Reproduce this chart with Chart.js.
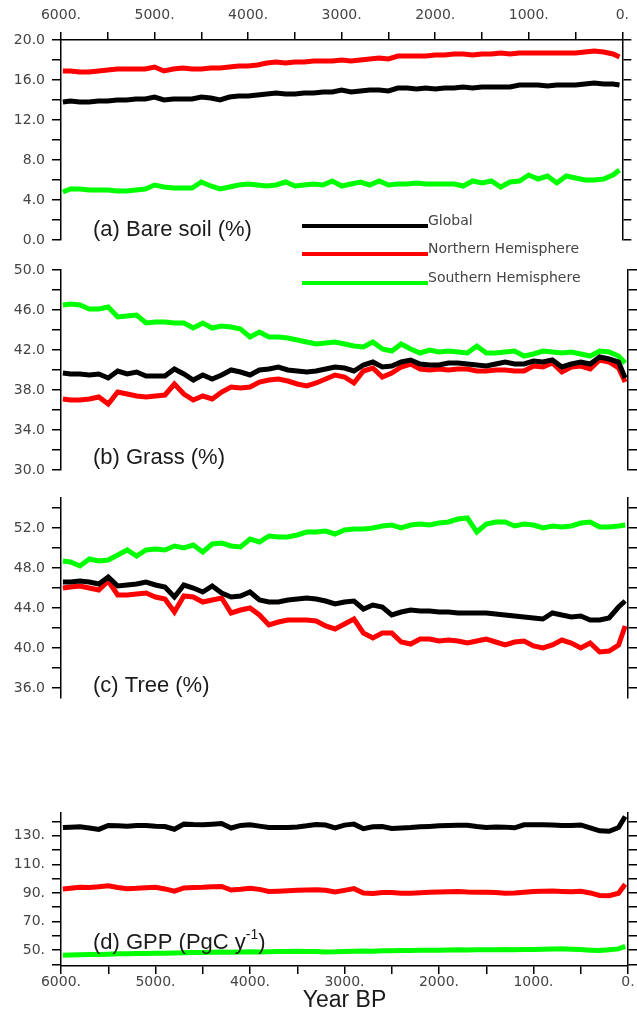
<!DOCTYPE html>
<html lang="en">
<head>
    <meta charset="UTF-8">
    <title>Bare soil, grass, tree and GPP, 6000 BP to present</title>
    <script src="https://cdn.jsdelivr.net/npm/chart.js@4.4.1/dist/chart.umd.min.js"></script>
    <style>
        body {
            margin: 0;
            background: #fff;
        }
        #wrap {
            position: relative;
            width: 637px;
            height: 1016px;
            overflow: hidden;
        }
        canvas {
            position: absolute;
            left: 0;
        }
    </style>
</head>
<body>
    <div id="wrap">
        <canvas id="panelA" width="637" height="300" style="top:0px"></canvas>
        <canvas id="panelB" width="637" height="240" style="top:250px"></canvas>
        <canvas id="panelC" width="637" height="240" style="top:478px"></canvas>
        <canvas id="panelD" width="637" height="223" style="top:793px"></canvas>
    </div>

    <script>
        // years BP of the sampled points (read every 100 years)
        const years = [5980,
            5900, 5800, 5700, 5600, 5500, 5400, 5300, 5200, 5100, 5000,
            4900, 4800, 4700, 4600, 4500, 4400, 4300, 4200, 4100, 4000,
            3900, 3800, 3700, 3600, 3500, 3400, 3300, 3200, 3100, 3000,
            2900, 2800, 2700, 2600, 2500, 2400, 2300, 2200, 2100, 2000,
            1900, 1800, 1700, 1600, 1500, 1400, 1300, 1200, 1100, 1000,
            900, 800, 700, 600, 500, 400, 300, 200, 100,
            30];

        const seriesNames = ['Global', 'Northern Hemisphere', 'Southern Hemisphere'];
        const seriesColors = ['#000000', '#ff0000', '#00ff00'];

        // (a) bare soil %
        const bareGlobal = [13.8,
            13.9, 13.8, 13.8, 13.9, 13.9, 14.0, 14.0, 14.1, 14.1, 14.3,
            14.0, 14.1, 14.1, 14.1, 14.3, 14.2, 14.0, 14.3, 14.4, 14.4,
            14.5, 14.6, 14.7, 14.6, 14.6, 14.7, 14.7, 14.8, 14.8, 15.0,
            14.8, 14.9, 15.0, 15.0, 14.9, 15.2, 15.2, 15.1, 15.2, 15.1,
            15.2, 15.2, 15.3, 15.2, 15.3, 15.3, 15.3, 15.3, 15.5, 15.5,
            15.5, 15.4, 15.5, 15.5, 15.5, 15.6, 15.7, 15.6, 15.6,
            15.5];
        const bareNH = [16.9,
            16.9, 16.8, 16.8, 16.9, 17.0, 17.1, 17.1, 17.1, 17.1, 17.3,
            16.9, 17.1, 17.2, 17.1, 17.1, 17.2, 17.2, 17.3, 17.4, 17.4,
            17.5, 17.7, 17.8, 17.7, 17.8, 17.8, 17.9, 17.9, 17.9, 18.0,
            17.9, 18.0, 18.1, 18.2, 18.1, 18.4, 18.4, 18.4, 18.4, 18.5,
            18.5, 18.6, 18.6, 18.5, 18.6, 18.6, 18.7, 18.6, 18.7, 18.7,
            18.7, 18.7, 18.7, 18.7, 18.7, 18.8, 18.9, 18.8, 18.6,
            18.3];
        const bareSH = [4.8,
            5.1, 5.1, 5.0, 5.0, 5.0, 4.9, 4.9, 5.0, 5.1, 5.5,
            5.3, 5.2, 5.2, 5.2, 5.8, 5.4, 5.1, 5.3, 5.5, 5.6,
            5.5, 5.4, 5.5, 5.8, 5.4, 5.5, 5.6, 5.5, 5.9, 5.4,
            5.6, 5.8, 5.5, 5.9, 5.5, 5.6, 5.6, 5.7, 5.6, 5.6,
            5.6, 5.6, 5.4, 5.9, 5.7, 5.9, 5.3, 5.8, 5.9, 6.5,
            6.1, 6.4, 5.7, 6.4, 6.2, 6.0, 6.0, 6.1, 6.5,
            7.0];

        // (b) grass %
        const grassGlobal = [39.7,
            39.6, 39.6, 39.5, 39.6, 39.2, 39.9, 39.6, 39.8, 39.4, 39.4,
            39.4, 40.1, 39.6, 39.0, 39.5, 39.1, 39.5, 40.0, 39.8, 39.5,
            40.0, 40.1, 40.3, 40.0, 39.9, 39.8, 39.9, 40.1, 40.3, 40.2,
            39.9, 40.5, 40.8, 40.3, 40.4, 40.8, 41.0, 40.6, 40.5, 40.5,
            40.7, 40.7, 40.6, 40.5, 40.4, 40.6, 40.8, 40.6, 40.6, 40.9,
            40.8, 41.0, 40.3, 40.6, 40.8, 40.6, 41.3, 41.1, 40.8,
            39.2];
        const grassNH = [37.1,
            37.0, 37.0, 37.1, 37.3, 36.6, 37.8, 37.6, 37.4, 37.3, 37.4,
            37.5, 38.6, 37.6, 37.0, 37.4, 37.1, 37.8, 38.3, 38.2, 38.3,
            38.8, 39.0, 39.1, 38.9, 38.6, 38.4, 38.7, 39.1, 39.5, 39.3,
            38.7, 39.9, 40.2, 39.3, 39.7, 40.3, 40.6, 40.1, 40.0, 40.1,
            40.0, 40.1, 40.1, 39.9, 39.9, 40.0, 40.0, 39.9, 39.9, 40.4,
            40.3, 40.7, 39.8, 40.3, 40.4, 40.1, 41.0, 40.8, 40.2,
            38.8];
        const grassSH = [46.5,
            46.6, 46.5, 46.1, 46.1, 46.3, 45.3, 45.4, 45.5, 44.7, 44.8,
            44.8, 44.7, 44.7, 44.2, 44.7, 44.2, 44.4, 44.3, 44.1, 43.3,
            43.8, 43.3, 43.3, 43.2, 43.0, 42.8, 42.6, 42.7, 42.8, 42.6,
            42.4, 42.3, 42.8, 42.1, 41.9, 42.6, 42.1, 41.7, 42.0, 41.8,
            41.9, 41.8, 41.7, 42.4, 41.7, 41.7, 41.8, 41.9, 41.4, 41.6,
            41.9, 41.8, 41.7, 41.8, 41.6, 41.4, 41.9, 41.8, 41.4,
            40.7];

        // (c) tree %
        const treeGlobal = [46.6,
            46.6, 46.7, 46.6, 46.4, 47.1, 46.2, 46.3, 46.4, 46.6, 46.3,
            46.1, 45.1, 46.3, 46.0, 45.6, 46.2, 45.5, 45.1, 45.2, 45.6,
            44.8, 44.6, 44.6, 44.8, 44.9, 45.0, 44.9, 44.7, 44.4, 44.6,
            44.7, 43.9, 44.3, 44.1, 43.3, 43.6, 43.8, 43.7, 43.7, 43.6,
            43.6, 43.5, 43.5, 43.5, 43.5, 43.4, 43.3, 43.2, 43.1, 43.0,
            42.9, 43.5, 43.3, 43.1, 43.2, 42.8, 42.8, 43.0, 44.1,
            44.7];
        const treeNH = [46.0,
            46.1, 46.2, 46.0, 45.8, 46.7, 45.3, 45.3, 45.4, 45.5, 45.1,
            44.9, 43.6, 45.2, 45.1, 44.6, 44.8, 45.0, 43.5, 43.8, 44.0,
            43.3, 42.3, 42.6, 42.8, 42.8, 42.8, 42.7, 42.2, 41.9, 42.4,
            42.9, 41.5, 41.0, 41.5, 41.5, 40.6, 40.4, 40.9, 40.9, 40.7,
            40.8, 40.7, 40.5, 40.7, 40.9, 40.6, 40.3, 40.6, 40.7, 40.2,
            40.0, 40.3, 40.8, 40.5, 40.0, 40.5, 39.6, 39.7, 40.3,
            42.2];
        const treeSH = [48.7,
            48.6, 48.2, 48.9, 48.7, 48.8, 49.3, 49.8, 49.2, 49.8, 49.9,
            49.8, 50.2, 50.0, 50.3, 49.6, 50.4, 50.5, 50.2, 50.1, 50.9,
            50.6, 51.2, 51.1, 51.1, 51.3, 51.6, 51.6, 51.7, 51.4, 51.8,
            51.9, 51.9, 52.0, 52.2, 52.3, 52.0, 52.3, 52.4, 52.3, 52.5,
            52.6, 52.9, 53.0, 51.6, 52.4, 52.6, 52.6, 52.2, 52.4, 52.3,
            52.0, 52.2, 52.1, 52.2, 52.5, 52.6, 52.1, 52.1, 52.2,
            52.3];

        // (d) GPP, PgC per year
        const gppGlobal = [135.8,
            136.0, 136.3, 135.5, 134.5, 137.3, 137.0, 136.8, 137.3, 137.3, 136.8,
            136.5, 134.6, 138.2, 137.9, 137.8, 138.2, 138.6, 135.5, 137.3, 137.7,
            136.8, 135.9, 135.8, 135.8, 136.2, 137.0, 138.0, 137.6, 135.6, 137.5,
            138.2, 135.0, 136.3, 136.5, 135.2, 135.5, 135.8, 136.3, 136.6, 137.0,
            137.2, 137.5, 137.4, 136.5, 135.9, 136.2, 136.1, 135.6, 137.7, 137.8,
            137.8, 137.6, 137.2, 137.3, 137.6, 135.5, 133.5, 133.2, 135.8,
            143.5];
        const gppNH = [92.8,
            93.3, 94.0, 93.8, 94.3, 95.0, 93.8, 93.0, 93.2, 93.6, 94.0,
            92.8, 91.3, 93.5, 93.8, 94.0, 94.4, 94.5, 92.0, 92.5, 93.2,
            92.5, 91.0, 91.2, 91.5, 91.8, 92.0, 92.2, 91.8, 90.6, 91.8,
            93.0, 90.0, 89.6, 90.3, 90.3, 89.7, 89.8, 90.2, 90.4, 90.6,
            90.8, 91.0, 90.6, 90.4, 90.5, 90.3, 89.8, 89.9, 90.5, 91.0,
            91.2, 91.3, 91.0, 90.8, 91.2, 90.0, 88.2, 88.0, 89.8,
            96.0];
        const gppSH = [46.3,
            46.5, 46.6, 46.8, 46.9, 47.1, 47.3, 47.4, 47.5, 47.6, 47.8,
            47.7, 47.9, 48.0, 48.2, 48.3, 48.4, 48.6, 48.5, 48.6, 48.7,
            48.6, 48.7, 48.9, 49.0, 49.1, 49.0, 48.9, 48.6, 48.7, 49.0,
            49.2, 49.3, 49.1, 49.4, 49.5, 49.6, 49.7, 49.8, 49.8, 49.9,
            50.0, 50.1, 50.0, 50.1, 50.2, 50.2, 50.3, 50.2, 50.3, 50.3,
            50.5, 50.7, 50.8, 50.6, 50.3, 49.9, 49.6, 50.2, 50.8,
            52.5];

        // axis ticks
        const xTickMarks = [6000, 5500, 5000, 4500, 4000, 3500, 3000, 2500, 2000, 1500, 1000, 500, 0];
        const xTickLabels = [6000, 5000, 4000, 3000, 2000, 1000, 0];

        const bareTicks = [0, 2, 4, 6, 8, 10, 12, 14, 16, 18, 20];
        const bareLabels = [0, 4, 8, 12, 16, 20];
        const grassTicks = [30, 32, 34, 36, 38, 40, 42, 44, 46, 48, 50];
        const grassLabels = [30, 34, 38, 42, 46, 50];
        const treeTicks = [36, 38, 40, 42, 44, 46, 48, 50, 52, 54];
        const treeLabels = [36, 40, 44, 48, 52];
        const gppTicks = [40, 50, 60, 70, 80, 90, 100, 110, 120, 130, 140];
        const gppLabels = [50, 70, 90, 110, 130];

        Chart.defaults.font.family = '"DejaVu Sans", sans-serif';
        Chart.defaults.animation = false;

        const LABEL_FONT = '22px "Liberation Sans", Arial, sans-serif';

        // panel caption, drawn inside the plot just above the bottom edge
        const panelCaption = {
            id: 'panelCaption',
            afterDraw(chart, args, opts) {
                if (!opts.parts) return;
                const ctx = chart.ctx;
                const area = chart.chartArea;
                let x = area.left + 32;
                const y = area.bottom - opts.lift;
                ctx.save();
                ctx.fillStyle = '#1a1a1a';
                ctx.textBaseline = 'middle';
                ctx.textAlign = 'left';
                opts.parts.forEach(p => {
                    if (p.sup) {
                        ctx.font = '14px "Liberation Sans", Arial, sans-serif';
                        ctx.fillText(p.text, x, y - 8);
                    } else {
                        ctx.font = LABEL_FONT;
                        ctx.fillText(p.text, x, y);
                    }
                    x += ctx.measureText(p.text).width;
                });
                ctx.restore();
            }
        };

        // line legend under the first panel
        const lineLegend = {
            id: 'lineLegend',
            afterDraw(chart, args, opts) {
                if (!opts.show) return;
                const ctx = chart.ctx;
                const area = chart.chartArea;
                const x0 = area.left + 241;
                const x1 = area.left + 367;
                const rows = [226, 254, 283];
                ctx.save();
                chart.data.datasets.forEach((ds, i) => {
                    ctx.strokeStyle = ds.borderColor;
                    ctx.lineWidth = 4;
                    ctx.beginPath();
                    ctx.moveTo(x0, rows[i]);
                    ctx.lineTo(x1, rows[i]);
                    ctx.stroke();
                    ctx.fillStyle = '#444';
                    ctx.font = '14px "DejaVu Sans", sans-serif';
                    ctx.textBaseline = 'middle';
                    ctx.fillText(ds.label, x1, rows[i] - 5);
                });
                ctx.restore();
            }
        };

        function setTicks(list) {
            return scale => { scale.ticks = list.map(v => ({ value: v })); };
        }

        const axisGrid = { drawOnChartArea: false, tickLength: 9, color: '#000', lineWidth: 1.5 };
        const axisBorder = { display: true, color: '#000', width: 1.5 };

        function xAxis(where) {
            if (where === 'none') {
                return { type: 'linear', reverse: true, min: 0, max: 6000, display: false };
            }
            const ax = {
                type: 'linear',
                position: where,
                reverse: true,
                min: 0,
                max: 6000,
                afterBuildTicks: setTicks(xTickMarks),
                afterFit: s => { s.height = where === 'top' ? 40 : 50; },
                ticks: {
                    autoSkip: false,
                    maxRotation: 0,
                    color: '#444',
                    font: { size: 14 },
                    padding: where === 'top' ? 8 : 0,
                    callback: v => xTickLabels.includes(v) ? v + '.' : ''
                },
                grid: Object.assign({}, axisGrid, { tickLength: 8 }),
                border: axisBorder
            };
            if (where === 'bottom') {
                ax.title = {
                    display: true,
                    text: 'Year BP',
                    color: '#1a1a1a',
                    font: { family: '"Liberation Sans", Arial, sans-serif', size: 23 },
                    padding: { top: 0, bottom: 2 }
                };
            }
            return ax;
        }

        function makePanel(id, p) {
            const datasets = p.series.map((vals, i) => ({
                label: seriesNames[i],
                data: years.map((yr, k) => ({ x: yr, y: vals[k] })),
                borderColor: seriesColors[i],
                backgroundColor: seriesColors[i],
                borderWidth: 5,
                pointRadius: 0,
                tension: 0,
                fill: false
            }));

            return new Chart(document.getElementById(id), {
                type: 'line',
                data: { datasets: datasets },
                options: {
                    responsive: false,
                    devicePixelRatio: 1,
                    layout: { padding: p.padding },
                    plugins: {
                        legend: { display: false },
                        tooltip: { enabled: false },
                        panelCaption: { parts: p.caption, lift: p.lift },
                        lineLegend: { show: !!p.legend }
                    },
                    scales: {
                        x: xAxis(p.xPos),
                        y: {
                            type: 'linear',
                            position: 'left',
                            min: p.min,
                            max: p.max,
                            afterBuildTicks: setTicks(p.ticks),
                            afterFit: s => { s.width = 61; },
                            ticks: {
                                autoSkip: false,
                                color: '#444',
                                font: { size: 14 },
                                padding: 7,
                                callback: v => p.labels.includes(v) ? p.fmt(v) : ''
                            },
                            grid: axisGrid,
                            border: axisBorder
                        },
                        yRight: {
                            type: 'linear',
                            position: 'right',
                            min: p.min,
                            max: p.max,
                            afterBuildTicks: setTicks(p.ticks),
                            afterFit: s => { s.width = 9; },
                            ticks: { display: false, autoSkip: false, callback: () => '' },
                            grid: axisGrid,
                            border: axisBorder
                        }
                    }
                },
                plugins: [panelCaption, lineLegend]
            });
        }

        const oneDecimal = v => v.toFixed(1);
        const withDot = v => v + '.';

        makePanel('panelA', {
            series: [bareGlobal, bareNH, bareSH],
            min: 0, max: 20, ticks: bareTicks, labels: bareLabels, fmt: oneDecimal,
            xPos: 'top',
            padding: { top: 0, bottom: 60, left: 0, right: 0 },
            caption: [{ text: '(a) Bare soil (%)' }], lift: 10,
            legend: true
        });

        makePanel('panelB', {
            series: [grassGlobal, grassNH, grassSH],
            min: 30, max: 50, ticks: grassTicks, labels: grassLabels, fmt: oneDecimal,
            xPos: 'none',
            padding: { top: 20, bottom: 20, left: 0, right: 0 },
            caption: [{ text: '(b) Grass (%)' }], lift: 12
        });

        makePanel('panelC', {
            series: [treeGlobal, treeNH, treeSH],
            min: 35, max: 55, ticks: treeTicks, labels: treeLabels, fmt: oneDecimal,
            xPos: 'none',
            padding: { top: 20, bottom: 20, left: 0, right: 0 },
            caption: [{ text: '(c) Tree (%)' }], lift: 12
        });

        makePanel('panelD', {
            series: [gppGlobal, gppNH, gppSH],
            min: 38.8, max: 146, ticks: gppTicks, labels: gppLabels, fmt: withDot,
            xPos: 'bottom',
            padding: { top: 20, bottom: 0, left: 0, right: 0 },
            caption: [{ text: '(d) GPP (PgC y' }, { text: '-1', sup: true }, { text: ')' }], lift: 23
        });
    </script>
</body>
</html>
